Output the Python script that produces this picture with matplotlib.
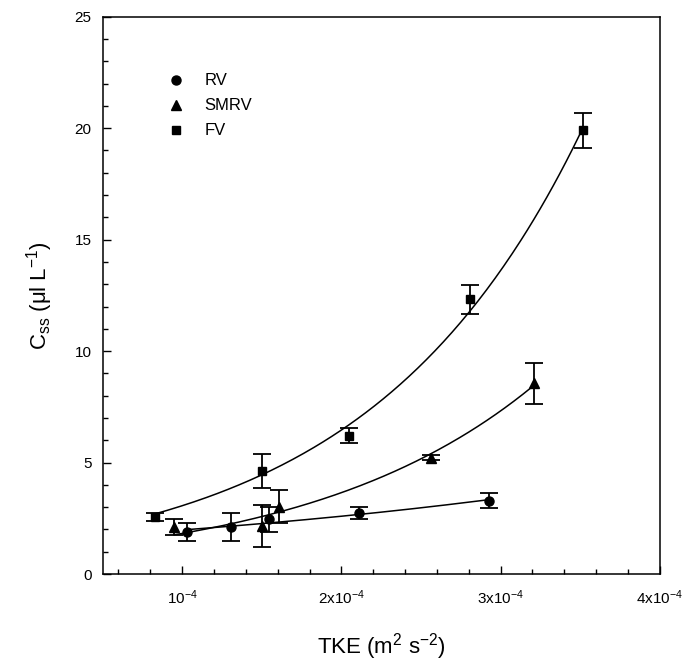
import numpy as np
import matplotlib
matplotlib.use("Agg")
import matplotlib.pyplot as plt
from matplotlib.ticker import MultipleLocator

plt.rcParams['font.family'] = ['Liberation Sans', 'DejaVu Sans']
plt.rcParams['mathtext.fontset'] = 'custom'
plt.rcParams['mathtext.rm'] = 'Liberation Sans'
plt.rcParams['mathtext.it'] = 'Liberation Sans'

# data (x in m2 s-2, y in ul L-1)
rv_x = [1.028e-4, 1.305e-4, 1.548e-4, 2.108e-4, 2.925e-4]
rv_y = [1.87, 2.11, 2.45, 2.72, 3.29]
rv_err = [0.40, 0.62, 0.57, 0.27, 0.33]

smrv_x = [0.95e-4, 1.504e-4, 1.609e-4, 2.565e-4, 3.208e-4]
smrv_y = [2.12, 2.17, 3.02, 5.22, 8.55]
smrv_err = [0.37, 0.95, 0.75, 0.10, 0.90]

fv_x = [0.829e-4, 1.504e-4, 2.045e-4, 2.81e-4, 3.52e-4]
fv_y = [2.57, 4.62, 6.20, 12.32, 19.9]
fv_err = [0.18, 0.76, 0.33, 0.65, 0.80]

xticks = [1e-4, 2e-4, 3e-4, 4e-4]
xtick_labels = [r'10$^{\mathregular{-4}}$', r'2x10$^{\mathregular{-4}}$',
                r'3x10$^{\mathregular{-4}}$', r'4x10$^{\mathregular{-4}}$']


def exp_fit(x, y):
    # y = a*exp(b*x), start from log-linear fit then refine (Gauss-Newton)
    x = np.asarray(x) * 1e4
    y = np.asarray(y)
    b, lna = np.polyfit(x, np.log(y), 1)
    a = np.exp(lna)
    for _ in range(50):
        f = a * np.exp(b * x)
        J = np.column_stack([np.exp(b * x), a * x * np.exp(b * x)])
        step, *_ = np.linalg.lstsq(J, y - f, rcond=None)
        a += step[0]
        b += step[1]
    return a, b


fig = plt.figure(figsize=(6.88, 6.66), dpi=100)
ax = fig.add_axes([0.149, 0.138, 0.810, 0.837])

series = [
    ('RV', rv_x, rv_y, rv_err, 'o', 6.5),
    ('SMRV', smrv_x, smrv_y, smrv_err, '^', 7),
    ('FV', fv_x, fv_y, fv_err, 's', 6),
]

for name, x, y, err, mk, ms in series:
    a, b = exp_fit(x, y)
    xx = np.linspace(min(x), max(x), 200)
    ax.plot(xx, a * np.exp(b * xx * 1e4), color='black', lw=1.1, zorder=2)
    ax.errorbar(x, y, yerr=err, fmt=mk, color='black', ms=ms, ecolor='black',
                elinewidth=1.3, capsize=6.5, capthick=1.3, label=name, zorder=3)

ax.set_xlim(0.5e-4, 4e-4)
ax.set_ylim(0, 25)
ax.set_xticks(xticks)
ax.set_xticklabels(xtick_labels)
ax.xaxis.set_minor_locator(MultipleLocator(0.2e-4))
ax.yaxis.set_major_locator(MultipleLocator(5))
ax.yaxis.set_minor_locator(MultipleLocator(1))
ax.tick_params(which='both', direction='in', labelsize=11, width=1)
ax.tick_params(which='major', length=6)
ax.tick_params(which='minor', length=3.5)
ax.tick_params(axis='x', pad=10)
ax.tick_params(axis='y', pad=8)
for s in ax.spines.values():
    s.set_linewidth(1.1)

ax.set_xlabel(r'TKE (m$^{\mathregular{2}}$ s$^{\mathregular{-2}}$)', fontsize=16, labelpad=18)
ax.set_ylabel(r'C$_{\mathregular{ss}}$ ($\mathregular{\mu}$l L$^{\mathregular{-1}}$)', fontsize=16, labelpad=14)

handles, labels = ax.get_legend_handles_labels()
handles = [h[0] for h in handles]
ax.legend(handles, labels, loc='upper left', bbox_to_anchor=(0.09, 0.925),
          frameon=False, fontsize=12, handletextpad=1.2, labelspacing=0.6,
          handlelength=1.0)

fig.savefig('out.png', dpi=100)
